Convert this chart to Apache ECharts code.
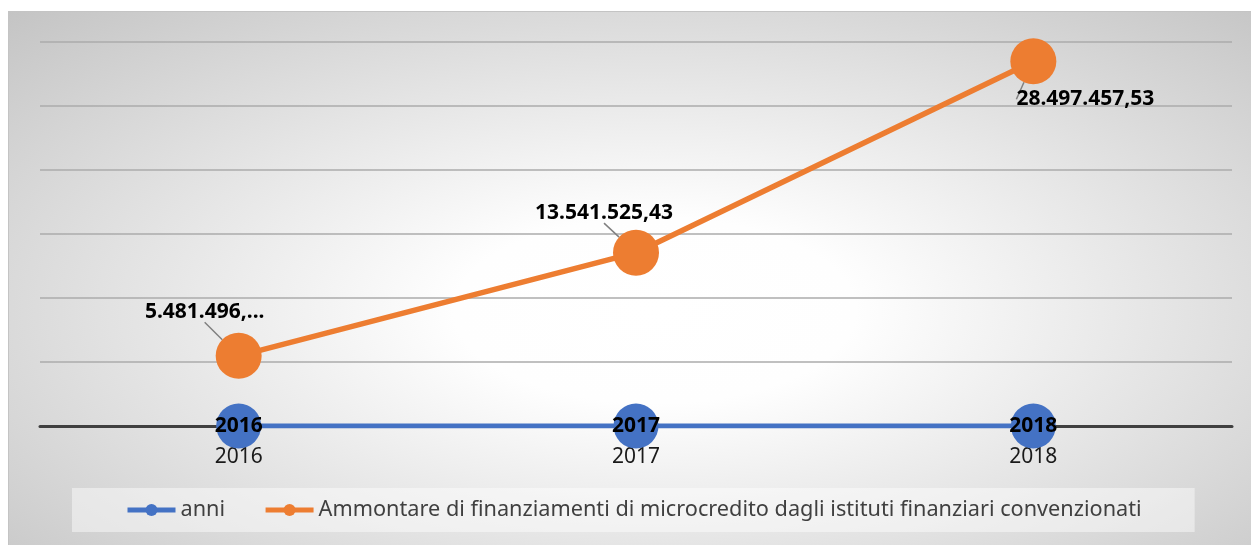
<!DOCTYPE html>
<html>
<head>
<meta charset="utf-8">
<script src="https://cdn.jsdelivr.net/npm/echarts@6/dist/echarts.min.js"></script>
<style>
  html, body { margin: 0; padding: 0; background: #fff; }
  #main {
    position: absolute; left: 8px; top: 11px; width: 1243px; height: 534px;
    border-top: 1px solid #c4c4c4; border-left: 1px solid #c4c4c4; box-sizing: border-box;
    background: radial-gradient(ellipse farthest-corner at 52% 56%, #ffffff 0%, #fefefe 22%, #c4c4c4 100%);
  }
</style>
</head>
<body>
<div id="main"></div>
<script>
// anni sull'asse x
const categories = ['2016', '2017', '2018'];
// serie "anni" (valori = anno stesso)
const anni = [2016, 2017, 2018];
// ammontare finanziamenti
const ammontare = [5481496, 13541525.43, 28497457.53];
// etichette come nel grafico originale
const ammontareLabels = ['5.481.496,...', '13.541.525,43', '28.497.457,53'];
// spostamento etichette [dx, dy]
const labelShift = [[-34, -44], [-32, -40], [52, 38]];

const font = '"Noto Sans", sans-serif';
const myChart = echarts.init(document.getElementById('main'));

const option = {
  backgroundColor: 'transparent',
  animation: false,
  grid: { left: 31, right: 19, top: 30, bottom: 119 },
  legend: {
    left: 63,
    top: 476,
    padding: [11, 53, 11, 53],
    backgroundColor: 'rgba(255,255,255,0.45)',
    itemWidth: 48,
    itemHeight: 15,
    itemGap: 38,
    lineStyle: { width: 5 },
    textStyle: { color: '#404040', fontSize: 21.7, fontFamily: font }
  },
  xAxis: {
    type: 'category',
    data: categories,
    axisTick: { show: false },
    axisLine: { lineStyle: { color: '#404040', width: 3 } },
    axisLabel: { color: '#1a1a1a', fontSize: 21, fontFamily: font, margin: 21 }
  },
  yAxis: {
    type: 'value',
    min: 0,
    max: 30000000,
    interval: 5000000,
    axisLabel: { show: false },
    axisLine: { show: false },
    axisTick: { show: false },
    splitLine: { lineStyle: { color: '#ababab', width: 1.5 } }
  },
  series: [
    {
      name: 'anni',
      type: 'line',
      data: anni,
      color: '#4472c4',
      symbol: 'circle',
      symbolSize: 45,
      lineStyle: { width: 5 },
      label: {
        show: true,
        position: 'inside',
        color: '#000',
        fontWeight: 'bold',
        fontSize: 21,
        fontFamily: font
      }
    },
    {
      name: 'Ammontare di finanziamenti di microcredito dagli istituti finanziari convenzionati',
      type: 'line',
      data: ammontare,
      color: '#ed7d31',
      symbol: 'circle',
      symbolSize: 46,
      lineStyle: { width: 5.5 },
      label: {
        show: true,
        position: 'inside',
        color: '#000',
        fontWeight: 'bold',
        fontSize: 21,
        fontFamily: font,
        formatter: p => ammontareLabels[p.dataIndex]
      },
      labelLine: { show: true, lineStyle: { color: '#808080', width: 1.5 } },
      labelLayout: p => ({ dx: labelShift[p.dataIndex][0], dy: labelShift[p.dataIndex][1] })
    }
  ]
};

myChart.setOption(option);
window.onresize = function () { myChart.resize(); };
</script>
</body>
</html>
